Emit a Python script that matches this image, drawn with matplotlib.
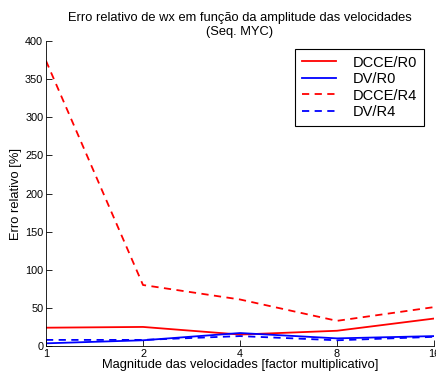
import matplotlib
matplotlib.use("Agg")
import matplotlib.pyplot as plt

plt.rcParams['font.family'] = ['Liberation Sans', 'DejaVu Sans']

magnitude = [1, 2, 4, 8, 16]
dcce_r0 = [24, 25, 15, 20, 36]
dv_r0 = [3.5, 7.5, 17, 10, 13]
dcce_r4 = [374, 80, 61, 33, 51]
dv_r4 = [8, 8, 13, 7.5, 12]

fig = plt.figure(figsize=(4.36, 3.79), dpi=100)
ax = fig.add_axes([46 / 436, 1 - 346 / 379, 388 / 436, 305 / 379])

ax.plot(magnitude, dcce_r0, color='#ff0000', lw=1.3, label='DCCE/R0')
ax.plot(magnitude, dv_r0, color='#0000ff', lw=1.3, label='DV/R0')
ax.plot(magnitude, dcce_r4, color='#ff0000', lw=1.3, ls=(0, (4, 3)), label='DCCE/R4')
ax.plot(magnitude, dv_r4, color='#0000ff', lw=1.3, ls=(0, (4, 3)), label='DV/R4')

ax.set_xscale('log', base=2)
ax.set_xlim(1, 16)
ax.set_ylim(0, 400)
ax.set_xticks(magnitude)
ax.set_xticklabels([str(m) for m in magnitude])
ax.set_yticks(range(0, 401, 50))
ax.minorticks_off()
ax.tick_params(direction='in', length=4, labelsize=7.8, width=0.6, pad=2)
for s in ['top', 'right']:
    ax.spines[s].set_visible(False)
for s in ['left', 'bottom']:
    ax.spines[s].set_linewidth(0.6)

ax.set_title('Erro relativo de wx em função da amplitude das velocidades\n(Seq. MYC)',
             fontsize=9.3, pad=4, linespacing=1.3)
ax.set_xlabel('Magnitude das velocidades [factor multiplicativo]', fontsize=9.3, labelpad=0)
ax.set_ylabel('Erro relativo [%]', fontsize=9.3, labelpad=2)

leg = ax.legend(loc='upper right', bbox_to_anchor=(424 / 436, 1 - 49 / 379), bbox_transform=fig.transFigure,
                fontsize=10.5, fancybox=False, edgecolor='black', framealpha=1,
                handlelength=2.3, handletextpad=1.2, borderpad=0.45, labelspacing=0.17,
                borderaxespad=0)
leg.get_frame().set_linewidth(0.8)

fig.savefig('out.png', dpi=100)
